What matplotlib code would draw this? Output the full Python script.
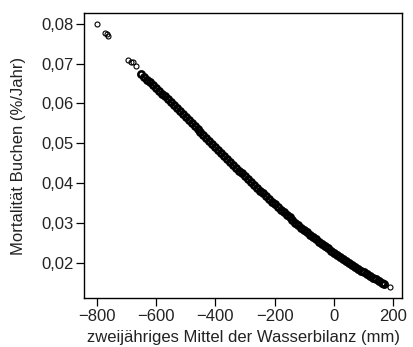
import matplotlib
matplotlib.use("Agg")
import matplotlib.pyplot as plt

# ===== Schrift =====
plt.rcParams['font.family'] = ['Liberation Sans', 'DejaVu Sans']

# ===== Daten =====
# einzelne Punkte am Rand
wb_einzel = [-800, -771, -766, -763, -693, -685, -679, -668, 190]
mort_einzel = [0.0799, 0.0778, 0.0774, 0.0770, 0.0710, 0.0705, 0.0703, 0.0693, 0.0138]

# dichter Bereich
wb = [-650, -640, -630, -620, -610, -600, -590, -580, -570, -560,
      -550, -540, -530, -520, -510, -500, -490, -480, -470, -460,
      -450, -440, -430, -420, -410, -400, -390, -380, -370, -360,
      -350, -340, -330, -320, -310, -300, -290, -280, -270, -260,
      -250, -240, -230, -220, -210, -200, -190, -180, -170, -160,
      -150, -140, -130, -120, -110, -100, -90, -80, -70, -60,
      -50, -40, -30, -20, -10, 0, 10, 20, 30, 40,
      50, 60, 70, 80, 90, 100, 110, 120, 130, 140,
      150, 160, 170]
mort = [0.06737, 0.06670, 0.06601, 0.06532, 0.06462, 0.06391, 0.06320, 0.06248, 0.06176, 0.06104,
        0.06031, 0.05957, 0.05884, 0.05810, 0.05735, 0.05661, 0.05586, 0.05511, 0.05436, 0.05361,
        0.05286, 0.05210, 0.05135, 0.05060, 0.04985, 0.04910, 0.04835, 0.04760, 0.04685, 0.04611,
        0.04536, 0.04462, 0.04389, 0.04315, 0.04242, 0.04169, 0.04097, 0.04025, 0.03954, 0.03883,
        0.03812, 0.03742, 0.03672, 0.03603, 0.03535, 0.03467, 0.03400, 0.03333, 0.03267, 0.03201,
        0.03137, 0.03072, 0.03009, 0.02946, 0.02884, 0.02823, 0.02762, 0.02702, 0.02643, 0.02585,
        0.02527, 0.02470, 0.02414, 0.02359, 0.02304, 0.02251, 0.02198, 0.02145, 0.02094, 0.02044,
        0.01994, 0.01945, 0.01897, 0.01849, 0.01803, 0.01757, 0.01712, 0.01668, 0.01624, 0.01582,
        0.01540, 0.01499, 0.01459]

x_ticks = [-800, -600, -400, -200, 0, 200]
x_labels = ["\u2212800", "\u2212600", "\u2212400", "\u2212200", "0", "200"]
y_ticks = [0.02, 0.03, 0.04, 0.05, 0.06, 0.07, 0.08]
y_labels = ["0,02", "0,03", "0,04", "0,05", "0,06", "0,07", "0,08"]

# ===== Zeichnen =====
fig = plt.figure(figsize=(4.14, 3.47), dpi=100)
ax = fig.add_axes([0.204, 0.141, 0.767, 0.822])

ax.plot(wb, mort, linestyle='none', marker='o', markersize=4.5,
        markerfacecolor='none', markeredgecolor='black', markeredgewidth=1.9)
ax.plot(wb_einzel, mort_einzel, linestyle='none', marker='o', markersize=3.6,
        markerfacecolor='none', markeredgecolor='black', markeredgewidth=0.8)

ax.set_xlim(-841, 229)
ax.set_ylim(0.01113, 0.08277)
ax.set_xticks(x_ticks)
ax.set_xticklabels(x_labels)
ax.set_yticks(y_ticks)
ax.set_yticklabels(y_labels)
ax.tick_params(direction='out', length=6, width=0.9, labelsize=12, pad=2,
               labelcolor='#222222')

for s in ax.spines.values():
    s.set_linewidth(1.0)

ax.set_xlabel("zweijähriges Mittel der Wasserbilanz (mm)", fontsize=12,
              labelpad=4, color='#222222')
ax.set_ylabel("Mortalität Buchen (%/Jahr)", fontsize=12, labelpad=11,
              color='#222222')

fig.savefig("out.png", dpi=100)
